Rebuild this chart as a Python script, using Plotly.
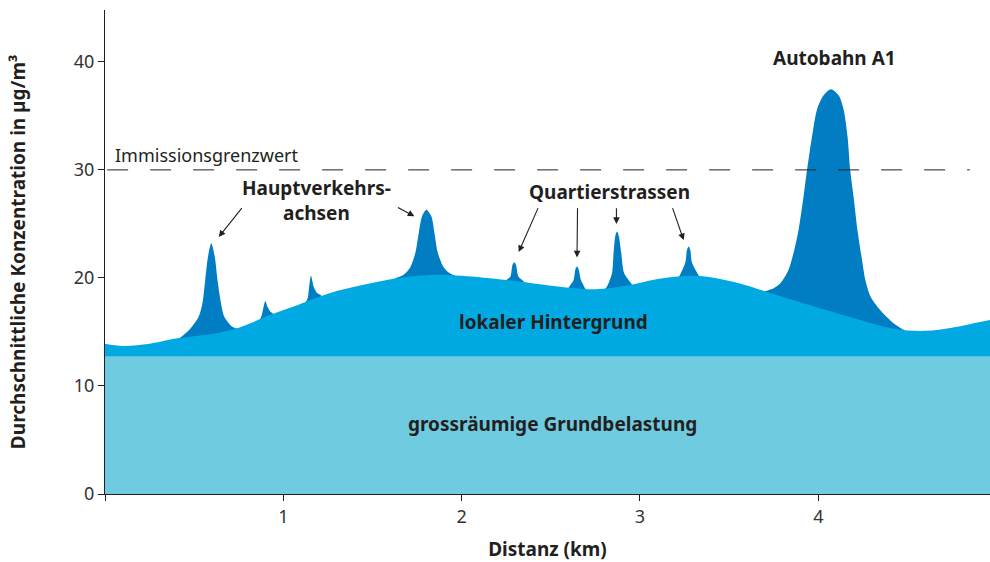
import plotly.graph_objects as go

# Local background concentration along the profile (km, µg/m³)
bg_x = [0.0, 0.1, 0.25, 0.366, 0.45, 0.6, 0.75, 0.815, 0.9, 1.05, 1.263, 1.43, 1.65, 1.85,
        2.0, 2.25, 2.45, 2.6, 2.75, 2.93, 3.1, 3.3, 3.45, 3.6, 3.674, 3.85, 4.049, 4.235,
        4.422, 4.6, 4.75, 4.9, 4.963]
bg_y = [13.9, 13.7, 13.9, 14.3, 14.5, 14.8, 15.4, 15.8, 16.4, 17.3, 18.6, 19.3, 20.0, 20.3,
        20.2, 19.8, 19.4, 19.1, 18.95, 19.3, 19.9, 20.2, 19.9, 19.3, 18.9, 18.0, 17.0, 16.1,
        15.3, 15.1, 15.4, 15.9, 16.1]

# Large-scale base load
base_x = [0.0, 4.963]
base_y = [12.75, 12.75]

# Road peaks on top of the local background
peak_0_6_x = [0.40, 0.432, 0.478, 0.525, 0.547, 0.562, 0.578, 0.596, 0.615, 0.631, 0.650,
              0.669, 0.712, 0.740, 0.77]
peak_0_6_y = [14.2, 14.6, 15.3, 16.4, 17.7, 19.8, 22.0, 23.2, 22.0, 19.8, 17.7,
              16.4, 15.5, 15.3, 15.0]

peak_0_9_x = [0.865, 0.880, 0.889, 0.899, 0.912, 0.927, 0.949, 0.965]
peak_0_9_y = [16.0, 16.6, 17.3, 17.87, 17.3, 16.9, 16.6, 16.2]

peak_1_15_x = [1.12, 1.136, 1.146, 1.155, 1.170, 1.189, 1.211, 1.23]
peak_1_15_y = [17.6, 18.1, 19.35, 20.2, 19.2, 18.6, 18.4, 18.0]

peak_1_8_x = [1.60, 1.628, 1.675, 1.712, 1.740, 1.759, 1.778, 1.802, 1.830, 1.848, 1.867,
              1.899, 1.936, 1.964, 2.0]
peak_1_8_y = [19.6, 19.97, 20.3, 21.0, 22.3, 24.1, 25.7, 26.3, 25.7, 24.1, 22.3,
              21.0, 20.4, 20.2, 19.9]

peak_2_3_x = [2.24, 2.254, 2.273, 2.285, 2.295, 2.305, 2.319, 2.347, 2.36]
peak_2_3_y = [19.5, 19.85, 20.1, 21.2, 21.45, 21.2, 20.1, 19.7, 19.4]

peak_2_65_x = [2.59, 2.60, 2.628, 2.638, 2.647, 2.656, 2.669, 2.693, 2.70]
peak_2_65_y = [18.8, 19.1, 19.8, 20.8, 21.05, 20.8, 19.8, 19.0, 18.7]

peak_2_87_x = [2.80, 2.815, 2.843, 2.852, 2.862, 2.871, 2.881, 2.895, 2.912, 2.95, 2.96]
peak_2_87_y = [18.9, 19.2, 20.4, 22.3, 23.9, 24.3, 23.9, 22.3, 20.4, 19.5, 19.2]

peak_3_27_x = [3.21, 3.222, 3.254, 3.264, 3.273, 3.282, 3.292, 3.33, 3.34]
peak_3_27_y = [19.9, 20.2, 21.4, 22.6, 22.9, 22.6, 21.4, 20.2, 19.9]

peak_a1_x = [3.68, 3.711, 3.75, 3.787, 3.833, 3.861, 3.889, 3.917, 3.937, 3.965, 3.993, 4.030,
             4.071, 4.114, 4.142, 4.164, 4.179, 4.198, 4.220, 4.245, 4.264, 4.292, 4.348,
             4.422, 4.478, 4.52]
peak_a1_y = [18.6, 18.82, 19.05, 19.5, 20.74, 22.3, 24.4, 27.5, 30.0, 33.1, 35.6, 36.9,
             37.47, 36.9, 35.6, 33.1, 30.0, 27.5, 24.4, 21.7, 19.8, 18.3, 17.0,
             15.8, 15.2, 14.8]

limit_value = 30
x_ticks = [0, 1, 2, 3, 4]
x_tick_text = ["", "1", "2", "3", "4"]
y_ticks = [0, 10, 20, 30, 40]

C_PEAK = "#007dc3"
C_LOCAL = "#00a9e2"
C_BASE = "#6fcbe0"
C_TEXT = "#231f20"
FONT = "Noto Sans"

fig = go.Figure()

peaks = [
    (peak_0_6_x, peak_0_6_y), (peak_0_9_x, peak_0_9_y), (peak_1_15_x, peak_1_15_y),
    (peak_1_8_x, peak_1_8_y), (peak_2_3_x, peak_2_3_y), (peak_2_65_x, peak_2_65_y),
    (peak_2_87_x, peak_2_87_y), (peak_3_27_x, peak_3_27_y), (peak_a1_x, peak_a1_y),
]
for px, py in peaks:
    fig.add_trace(go.Scatter(
        x=px, y=py, mode="lines", line=dict(width=0, shape="spline", smoothing=0.8, color=C_PEAK),
        fill="tozeroy", fillcolor=C_PEAK, hoverinfo="skip", showlegend=False))

fig.add_trace(go.Scatter(
    x=bg_x, y=bg_y, mode="lines", line=dict(width=0, shape="spline", smoothing=1.0, color=C_LOCAL),
    fill="tozeroy", fillcolor=C_LOCAL, hoverinfo="skip", showlegend=False))

fig.add_trace(go.Scatter(
    x=base_x, y=base_y, mode="lines", line=dict(width=0, color=C_BASE),
    fill="tozeroy", fillcolor=C_BASE, hoverinfo="skip", showlegend=False))

# Limit value line
fig.add_shape(type="line", xref="x", yref="y", x0=0.012, x1=4.85, y0=limit_value, y1=limit_value,
              line=dict(color="#231f20", width=1, dash="21px,22px"), layer="above")

bold = dict(family=FONT, size=19, color=C_TEXT)
annotations = [
    dict(x=0.045, y=limit_value + 0.05, text="Immissionsgrenzwert", showarrow=False,
         xanchor="left", yanchor="bottom", font=dict(family=FONT, size=18, color=C_TEXT)),
    dict(x=1.185, y=27.15, text="<b>Hauptverkehrs-<br>achsen</b>", showarrow=False,
         font=bold, align="center", yanchor="middle"),
    dict(x=2.83, y=28.0, text="<b>Quartierstrassen</b>", showarrow=False, font=bold),
    dict(x=4.09, y=40.4, text="<b>Autobahn A1</b>", showarrow=False, font=bold),
    dict(x=2.513, y=15.9, text="<b>lokaler Hintergrund</b>", showarrow=False, font=bold),
    dict(x=2.51, y=6.45, text="<b>grossräumige Grundbelastung</b>", showarrow=False, font=bold),
]

# Arrows: (tail_x, tail_y, head_x, head_y)
arrows = [
    (0.774, 26.6, 0.638, 23.8),
    (1.634, 26.6, 1.735, 25.7),
    (2.432, 26.6, 2.320, 22.4),
    (2.650, 26.6, 2.647, 21.9),
    (2.868, 26.6, 2.868, 25.0),
    (3.180, 26.6, 3.245, 23.5),
]
for tx, ty, hx, hy in arrows:
    annotations.append(dict(x=hx, y=hy, ax=tx, ay=ty, xref="x", yref="y", axref="x", ayref="y",
                            text="", showarrow=True, arrowhead=2, arrowsize=1.2, arrowwidth=1.1,
                            arrowcolor=C_TEXT))

fig.update_layout(
    width=990, height=562,
    margin=dict(l=105, r=0, t=10, b=68),
    plot_bgcolor="white", paper_bgcolor="white",
    font=dict(family=FONT, size=18, color=C_TEXT),
    annotations=annotations,
    xaxis=dict(range=[0, 4.963], tickvals=x_ticks, ticktext=x_tick_text, ticks="outside",
               ticklen=6, tickcolor="#231f20", showline=True, linecolor="#231f20", linewidth=1,
               showgrid=False, zeroline=False, tickfont=dict(size=18, color="#333333"),
               title=dict(text="<b>Distanz (km)</b>", font=dict(size=19, color=C_TEXT), standoff=18)),
    yaxis=dict(range=[0, 44.8], tickvals=y_ticks, ticks="outside", ticklen=6, tickcolor="#231f20",
               showline=True, linecolor="#231f20", linewidth=1, showgrid=False, zeroline=False,
               tickfont=dict(size=18, color="#333333"),
               title=dict(text="<b>Durchschnittliche Konzentration in µg/m³</b>",
                          font=dict(size=19, color=C_TEXT), standoff=43)),
)

fig.write_html("out.html")
